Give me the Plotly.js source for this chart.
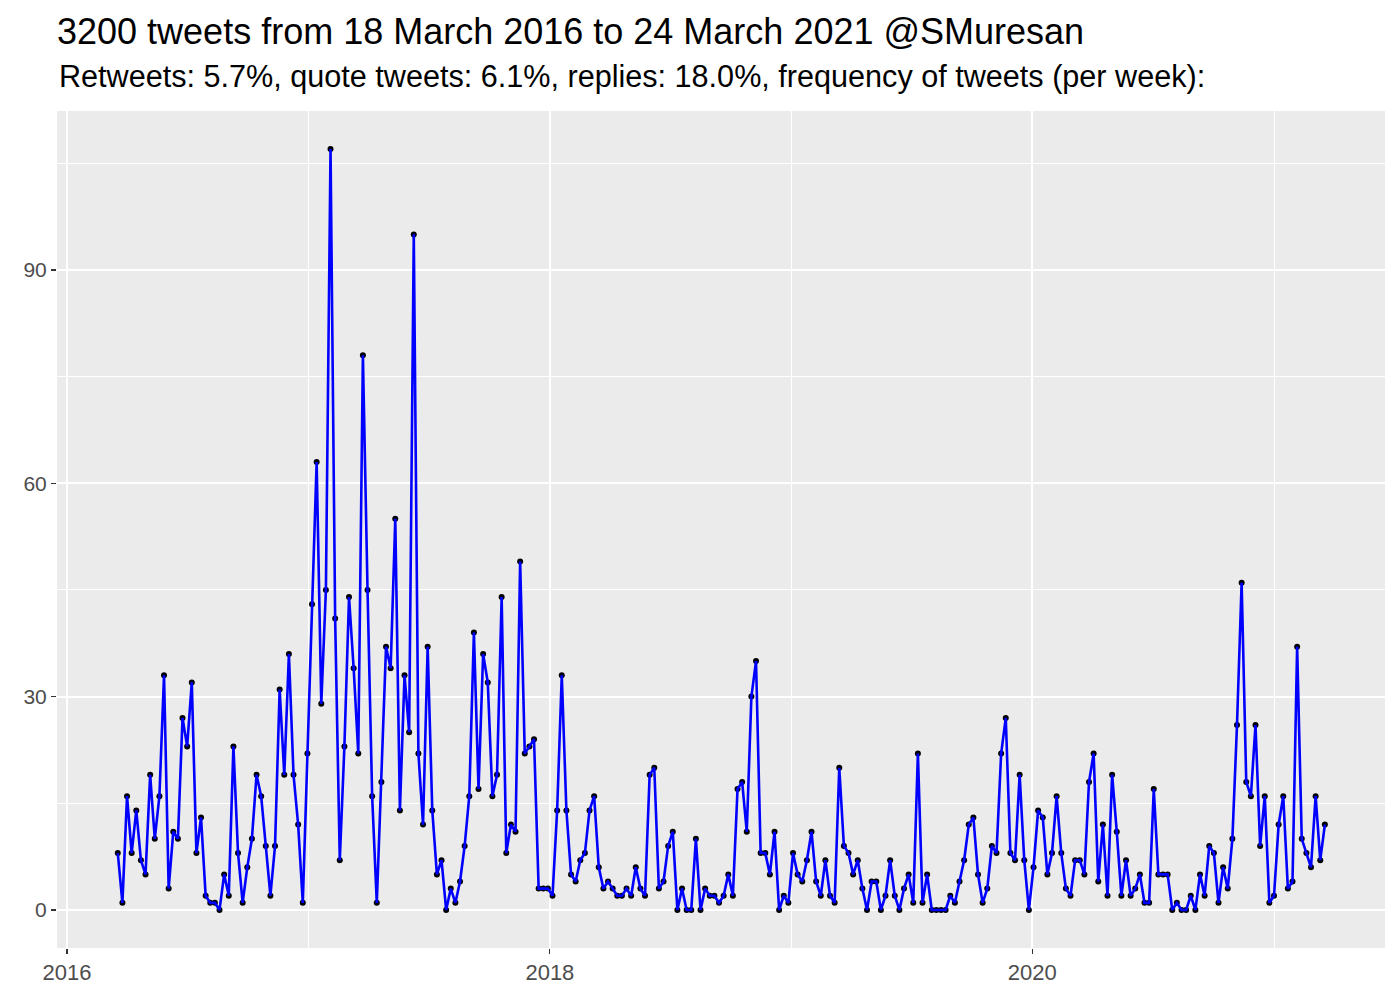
<!DOCTYPE html>
<html><head><meta charset="utf-8">
<script src="https://cdn.plot.ly/plotly-3.0.1.min.js"></script>
<style>html,body{margin:0;padding:0;background:#fff;} #chart{width:1400px;height:1000px;}</style>
</head><body><div id="chart"></div>
<script>
// Weekly tweet counts, first weekly bin starts 18 March 2016
const firstWeek = [2016, 2, 18]; // year, month index, day
const tweetsPerWeek = [
  8,1,16,8,14,7,5,19,10,16,33,3,11,10,27,23,32,8,13,2,1,1,0,5,2,23,
  8,1,6,10,19,16,9,2,9,31,19,36,19,12,1,22,43,63,29,45,107,41,7,23,44,34,22,
  78,45,16,1,18,37,34,55,14,33,25,95,22,12,37,14,5,7,0,3,1,4,9,16,39,17,36,
  32,16,19,44,8,12,11,49,22,23,24,3,3,3,2,14,33,14,5,4,7,8,14,16,6,3,4,
  3,2,2,3,2,6,3,2,19,20,3,4,9,11,0,3,0,0,10,0,3,2,2,1,2,5,2,
  17,18,11,30,35,8,8,5,11,0,2,1,8,5,4,7,11,4,2,7,2,1,20,9,8,5,7,
  3,0,4,4,0,2,7,2,0,3,5,1,22,1,5,0,0,0,0,2,1,4,7,12,13,5,1,
  3,9,8,22,27,8,7,19,7,0,6,14,13,5,8,16,8,3,2,7,7,5,18,22,4,12,2,
  19,11,2,7,2,3,5,1,1,17,5,5,5,0,1,0,0,2,0,5,2,9,8,1,6,3,10,
  26,46,18,16,26,9,16,1,2,12,16,3,4,37,10,8,6,16,7,12
];
const xTickVals = ['2016-01-01', '2018-01-01', '2020-01-01'];
const xTickText = ['2016', '2018', '2020'];
const yTickVals = [0, 30, 60, 90];
const yTickText = ['0', '30', '60', '90'];
const titleText = '3200 tweets from 18 March 2016 to 24 March 2021 @SMuresan';
const subtitleText = 'Retweets: 5.7%, quote tweets: 6.1%, replies: 18.0%, frequency of tweets (per week):';

const weeks = tweetsPerWeek.map((_, i) => {
  const d = new Date(Date.UTC(firstWeek[0], firstWeek[1], firstWeek[2]) + i * 7 * 86400000);
  return d.toISOString().slice(0, 10);
});

const FONT = 'Liberation Sans, Arial, Helvetica, sans-serif';

const traces = [
  {
    x: weeks, y: tweetsPerWeek, type: 'scatter', mode: 'markers',
    marker: {color: '#000000', size: 6},
    hoverinfo: 'skip', showlegend: false
  },
  {
    x: weeks, y: tweetsPerWeek, type: 'scatter', mode: 'lines',
    line: {color: '#0000FF', width: 2.6},
    showlegend: false
  }
];

const layout = {
  width: 1400, height: 1000,
  paper_bgcolor: '#FFFFFF', plot_bgcolor: '#EBEBEB',
  margin: {l: 57, r: 15, t: 111, b: 52, pad: 0},
  font: {family: FONT, color: '#000000'},
  title: {
    text: titleText, font: {family: FONT, size: 36, color: '#000000'},
    xref: 'container', yref: 'container', x: 57/1400, xanchor: 'left',
    y: 1 - 31/1000, yanchor: 'middle'
  },
  annotations: [{
    text: subtitleText, xref: 'paper', yref: 'paper', x: 0, xanchor: 'left',
    y: (948 - 77) / 837, yanchor: 'middle', showarrow: false,
    font: {family: FONT, size: 30.6, color: '#000000'}
  }],
  xaxis: {
    type: 'date',
    range: ['2015-12-17', '2021-06-18'],
    tickmode: 'array', tickvals: xTickVals, ticktext: xTickText,
    ticks: 'outside', ticklen: 5, tickwidth: 1.2, tickcolor: '#333333',
    tickfont: {family: FONT, size: 22, color: '#4D4D4D'},
    showgrid: true, gridcolor: '#FFFFFF', gridwidth: 2,
    zeroline: false, showline: false,
    minor: {tickmode: 'array', tickvals: ['2017-01-01', '2019-01-01', '2021-01-01'],
            showgrid: true, gridcolor: '#FFFFFF', gridwidth: 1, ticks: ''}
  },
  yaxis: {
    range: [-5.35, 112.35],
    tickmode: 'array', tickvals: yTickVals, ticktext: yTickText,
    ticks: 'outside', ticklen: 5, tickwidth: 1.2, tickcolor: '#333333',
    tickfont: {family: FONT, size: 21, color: '#4D4D4D'},
    showgrid: true, gridcolor: '#FFFFFF', gridwidth: 2,
    zeroline: false, showline: false,
    minor: {tickmode: 'array', tickvals: [15, 45, 75, 105],
            showgrid: true, gridcolor: '#FFFFFF', gridwidth: 1, ticks: ''}
  }
};

Plotly.newPlot('chart', traces, layout, {displayModeBar: false, staticPlot: true});
</script>
</body></html>
